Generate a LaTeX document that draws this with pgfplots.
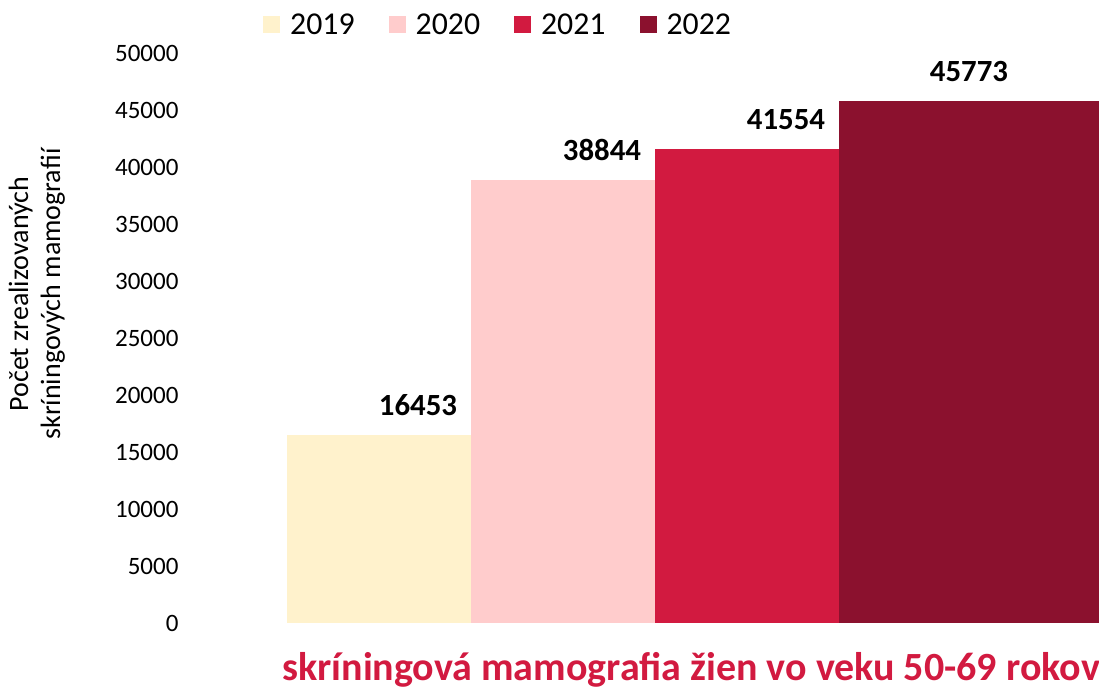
\documentclass[border=0pt]{standalone}
\usepackage{pgfplots}
\pgfplotsset{compat=1.18}
\usepackage{fontspec}
\setmainfont{Carlito}
\definecolor{c19}{HTML}{FFF2CC}
\definecolor{c20}{HTML}{FFCCCC}
\definecolor{c21}{HTML}{D21A40}
\definecolor{c22}{HTML}{8B112E}
\pgfkeys{/pgf/number format/.cd,1000 sep={},assume math mode=true}
\pgfplotsset{sq legend/.style={legend image code/.code={\fill[##1] (0pt,-8.5pt) rectangle (17pt,8.5pt);}}}
\begin{document}
\begin{tikzpicture}
\useasboundingbox (0,0) rectangle (1099pt,691pt);
\begin{axis}[
  at={(287pt,68pt)}, anchor=south west,
  scale only axis, width=812pt, height=570pt,
  xmin=-0.5, xmax=3.913, ymin=0, ymax=50000,
  ytick={0,5000,...,50000},
  xtick=\empty,
  axis line style={draw=none},
  major tick length=0pt,
  scaled y ticks=false,
  yticklabel style={font=\fontsize{25}{28}\selectfont, anchor=east, xshift=-105pt},
  ylabel={Počet zrealizovaných\\skríningových mamografií},
  ylabel style={at={(axis description cs:-0.308,0.577)}, anchor=center, align=center, font=\fontsize{28}{32}\selectfont},
  xlabel={skríningová mamografia žien vo veku 50-69 rokov},
  xlabel style={at={(axis description cs:-0.006,-0.1)}, anchor=base west, inner sep=0pt, font=\fontsize{40}{44}\selectfont\bfseries, text=c21},
  nodes near coords,
  every node near coord/.append style={font=\fontsize{30.8}{36}\selectfont\bfseries, anchor=center, yshift=30pt, xshift=39pt, text=black},
  legend columns=4,
  legend style={at={(0.26,1)}, anchor=center, yshift=28pt, draw=none, fill=none, font=\fontsize{31.8}{36}\selectfont,
    /tikz/every odd column/.append style={column sep=8pt},
    /tikz/every even column/.append style={column sep=32pt}},
]
\addplot[ybar, bar width=1, bar shift=0pt, fill=c19, draw=none, sq legend] coordinates {(0,16453)};
\addlegendentry{2019}
\addplot[ybar, bar width=1, bar shift=0pt, fill=c20, draw=none, sq legend] coordinates {(1,38844)};
\addlegendentry{2020}
\addplot[ybar, bar width=1, bar shift=0pt, fill=c21, draw=none, sq legend] coordinates {(2,41554)};
\addlegendentry{2021}
\addplot[ybar, bar width=1.5, bar shift=0pt, fill=c22, draw=none, sq legend, every node near coord/.append style={xshift=-47pt}] coordinates {(3.25,45773)};
\addlegendentry{2022}
\end{axis}
\end{tikzpicture}
\end{document}
